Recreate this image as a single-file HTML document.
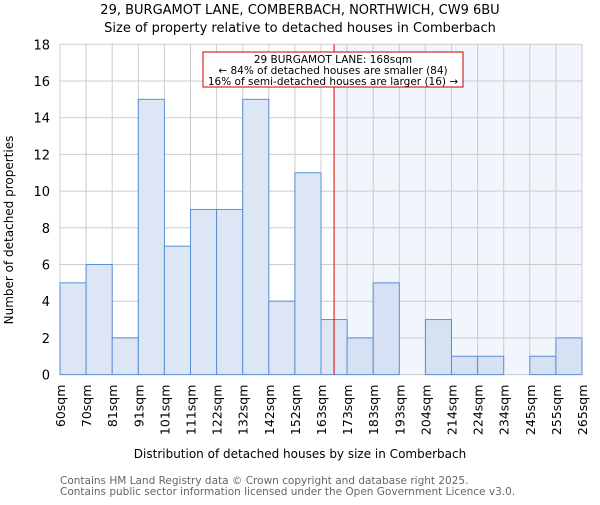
<!DOCTYPE html>
<html><head><meta charset="utf-8"><style>
body{margin:0;background:#fff}
svg{font-family:"DejaVu Sans","Liberation Sans",sans-serif}
</style></head><body>
<svg width="600" height="500">
<rect id="shade" fill="#f1f5fc"/>
<g id="grid"></g>
<g id="bars"></g>
<g id="yt"></g>
<g id="xt"></g>
<line id="marker" stroke="#dd0000" stroke-width="1"/>
<text x="300" y="14" text-anchor="middle" font-size="13">29, BURGAMOT LANE, COMBERBACH, NORTHWICH, CW9 6BU</text>
<text x="300" y="32" text-anchor="middle" font-size="13">Size of property relative to detached houses in Comberbach</text>
<text transform="translate(13,230) rotate(-90)" text-anchor="middle" font-size="12">Number of detached properties</text>
<text x="300" y="458" text-anchor="middle" font-size="12">Distribution of detached houses by size in Comberbach</text>
<g>
<rect x="203" y="52" width="260" height="35" fill="#fff" stroke="#cc0000"/>
<text x="333" y="63" text-anchor="middle" font-size="10.5">29 BURGAMOT LANE: 168sqm</text>
<text x="333" y="74" text-anchor="middle" font-size="10.5">← 84% of detached houses are smaller (84)</text>
<text x="333" y="85" text-anchor="middle" font-size="10.5">16% of semi-detached houses are larger (16) →</text>
</g>
<text x="60" y="484" font-size="10.5" fill="#666">Contains HM Land Registry data © Crown copyright and database right 2025.</text>
<text x="60" y="495" font-size="10.5" fill="#666">Contains public sector information licensed under the Open Government Licence v3.0.</text>
</svg>
<script>
const binLabels=["60sqm","70sqm","81sqm","91sqm","101sqm","111sqm","122sqm","132sqm","142sqm","152sqm","163sqm","173sqm","183sqm","193sqm","204sqm","214sqm","224sqm","234sqm","245sqm","255sqm","265sqm"];
const counts=[5,6,2,15,7,9,9,15,4,11,3,2,5,0,3,1,1,0,1,2];
const yTicks=[0,2,4,6,8,10,12,14,16,18];
const markerBin=10.5;
const L=60,R=582,T=44.3,B=374.6,YMAX=18;
const NS="http://www.w3.org/2000/svg";
const bw=(R-L)/counts.length;
const x=i=>L+i*bw, y=v=>B-(v/YMAX)*(B-T);
function mk(t,a,p){const e=document.createElementNS(NS,t);for(const k in a)e.setAttribute(k,a[k]);p.appendChild(e);return e;}
const g=document.getElementById('grid');
for(let i=0;i<=counts.length;i++){const l=mk('line',{x1:x(i),x2:x(i),y1:T,y2:B,stroke:'#ccc'},g);

}
const yt=document.getElementById('yt');
yTicks.forEach(v=>{const l=mk('line',{x1:L,x2:R,y1:y(v),y2:y(v),stroke:'#ccc'},g);


const t=mk('text',{x:50,y:y(v)+5,'text-anchor':'end','font-size':13},yt);t.textContent=v;

});
const mx=x(markerBin);
const sh=document.getElementById('shade');
sh.setAttribute('x',mx);sh.setAttribute('y',T);sh.setAttribute('width',R-mx);sh.setAttribute('height',B-T);
const bg=document.getElementById('bars');
counts.forEach((c,i)=>{if(!c)return;const r=mk('rect',{x:x(i),y:y(c),width:bw,height:B-y(c),fill:i>=11?'#d6e2f3':'#dce6f4',stroke:'#5b8fd4','stroke-width':1},bg);

});
const xt=document.getElementById('xt');
binLabels.forEach((s,i)=>{const t=mk('text',{transform:`translate(${x(i)+5},${B+10}) rotate(-90)`,'text-anchor':'end','font-size':12.5},xt);t.textContent=s;

});
const m=document.getElementById('marker');
m.setAttribute('x1',mx);m.setAttribute('x2',mx);m.setAttribute('y1',T);m.setAttribute('y2',B);
</script>
</body></html>
